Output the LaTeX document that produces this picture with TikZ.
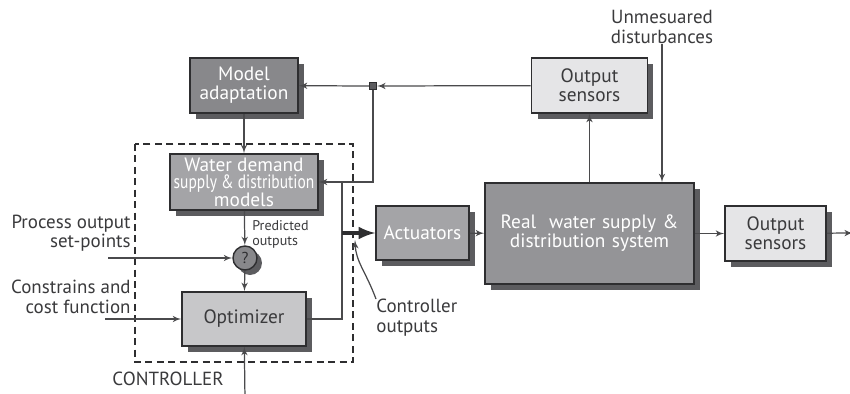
\documentclass[tikz,border=0pt]{standalone}
\usepackage{fontspec}
\setmainfont{PT Sans}
\newfontfamily\narrowfont[FakeStretch=0.8]{PT Sans}
\usepackage{tikz}
\usetikzlibrary{calc}
\usetikzlibrary{arrows}
\usetikzlibrary{shadows}
\tikzset{>=latex'}
\definecolor{linegray}{HTML}{4A4A4C}
\definecolor{edgegray}{HTML}{2E2E30}
\definecolor{shadegray}{HTML}{5C5C5F}
\definecolor{darkfill}{HTML}{88888B}
\definecolor{midfill}{HTML}{A4A4A7}
\definecolor{realfill}{HTML}{949497}
\definecolor{lightfill}{HTML}{C7C7C9}
\definecolor{palefill}{HTML}{E5E5E7}
\definecolor{textgray}{HTML}{3A3A3C}
\tikzset{
  block/.style={draw=edgegray,line width=0.9pt,align=center,inner sep=1pt,
    drop shadow={shadow xshift=0.12cm,shadow yshift=-0.12cm,fill=shadegray,opacity=1}},
  darkblock/.style={block,fill=darkfill,text=white},
  midblock/.style={block,fill=midfill,text=white},
  lightblock/.style={block,fill=lightfill,text=textgray},
  paleblock/.style={block,fill=palefill,text=textgray},
  wire/.style={draw=linegray,line width=0.7pt},
  label/.style={text=textgray,align=right,inner sep=0pt,font=\fontsize{10.8}{11}\selectfont},
}

\begin{document}
\begin{tikzpicture}[x=0.02cm,y=-0.02cm,font=\fontsize{11}{10.8}\selectfont]
	\useasboundingbox (0,0) rectangle (850,393);
	% blocks
	\node[darkblock,minimum width=2.16cm,minimum height=1.1cm] (madapt) at (244,85.5) {Model\\adaptation};
	\node[midblock,minimum width=2.96cm,minimum height=1.12cm,font=\fontsize{11}{10}\selectfont] (models) at (244,182) {Water demand\\{\narrowfont supply \& distribution}\\models};
	\node[circle,draw=edgegray,line width=0.8pt,fill=darkfill,minimum size=0.48cm,inner sep=0pt,font=\rmfamily\small,text=edgegray,
		drop shadow={shadow xshift=0.1cm,shadow yshift=-0.1cm,fill=shadegray,opacity=1}] (cmp) at (245,258) {?};
	\node[lightblock,minimum width=2.48cm,minimum height=1.08cm] (optim) at (244,319) {Optimizer};
	\node[midblock,minimum width=1.86cm,minimum height=1.08cm] (act) at (422.5,233) {Actuators};
	\node[block,fill=realfill,text=white,minimum width=4.18cm,minimum height=2.02cm,text width=3.8cm] (real) at (589.5,233.5) {Real\ \ water supply \&\\distribution system};
	\node[paleblock,minimum width=2.32cm,minimum height=1.1cm] (osens top) at (589.5,85.5) {Output\\sensors};
	\node[paleblock,minimum width=2.02cm,minimum height=1.1cm] (osens right) at (775.5,233.5) {Output\\sensors};
	\node[draw=edgegray,fill=shadegray,line width=0.6pt,minimum size=0.14cm,inner sep=0pt] (junc) at (373,86) {};
	\draw[edgegray,line width=0.9pt,dashed,dash pattern=on 4pt off 2.5pt] (135,144) rectangle (353,362);
	% texts
	\node[label,anchor=east] (setpoints) at (131,233) {Process output\\set-points};
	\node[label,anchor=east] (constr) at (131,297) {Constrains and\\cost function};
	\node[label,anchor=center] (ctrl) at (168,379) {CONTROLLER};
	\node[label,align=left,anchor=west,font=\fontsize{8}{8.5}\selectfont] (pred) at (252,234) {Predicted\\outputs};
	\node[label,align=left,anchor=north west] (ctrlout) at (376,299) {Controller\\outputs};
	\node[label,align=center,anchor=center] (dist) at (662,27) {Unmesuared\\disturbances};
	% free ends
	\coordinate (sp in) at (108,258);
	\coordinate (constr in) at (105,319);
	\coordinate (bottom in) at (245,400);
	\coordinate (right out) at (853,233);
	\coordinate (opt up) at (342,182);
	\coordinate (opt split) at (342,233);
	% connectors
	\draw[wire,->] (madapt) -- (models);
	\draw[wire,->] (models) -- (cmp);
	\draw[wire,->] (cmp) -- (optim);
	\draw[wire,->] (sp in) -- (cmp);
	\draw[wire,->] (constr in) -- (optim);
	\draw[wire,->] (bottom in) -- (optim);
	\draw[wire] (optim.east) -| (opt up);
	\draw[draw=edgegray,line width=2.2pt,-latex] (opt split) -- (act);
	\draw[wire,->] (act) -- (real);
	\draw[wire,->] (real) -- (osens right);
	\draw[wire,->] (osens right) -- (right out);
	\draw[wire,->] (real) -- (osens top);
	\draw[wire,->] (dist) -- (dist |- real.north);
	\draw[wire,->] (osens top) -- (junc);
	\draw[wire,->] (junc) -- (madapt);
	\draw[wire,->] (junc) |- (models.east);
	\draw[wire,->] (ctrlout.north west) .. controls (366,272) and (356,262) .. (355,240);
\end{tikzpicture}
\end{document}
